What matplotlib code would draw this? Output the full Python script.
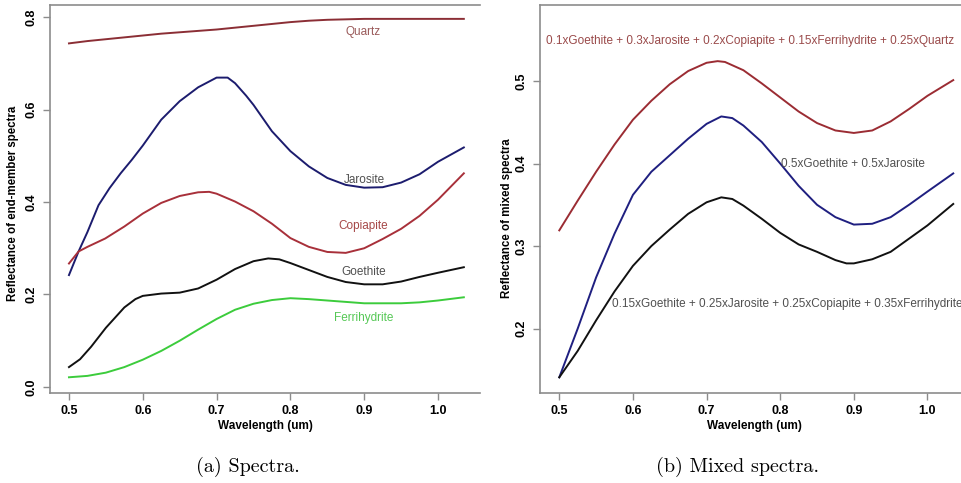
import matplotlib
matplotlib.use("Agg")
from matplotlib import pyplot as plt

plt.rcParams['font.family'] = ['Liberation Sans', 'DejaVu Sans']

# ---- end-member spectra (panel a) ----
wl_quartz = [0.50, 0.525, 0.55, 0.575, 0.60, 0.625, 0.65, 0.675, 0.70, 0.725, 0.75,
             0.775, 0.80, 0.825, 0.85, 0.875, 0.90, 0.925, 0.95, 0.975, 1.00, 1.035]
quartz = [0.743, 0.748, 0.752, 0.756, 0.760, 0.764, 0.767, 0.770, 0.773, 0.777, 0.781,
          0.785, 0.789, 0.792, 0.794, 0.795, 0.796, 0.796, 0.796, 0.796, 0.796, 0.796]

wl_jarosite = [0.50, 0.513, 0.525, 0.54, 0.555, 0.57, 0.585, 0.60, 0.625, 0.65, 0.675, 0.70, 0.715,
               0.725, 0.74, 0.75, 0.775, 0.80, 0.825, 0.85, 0.875, 0.90, 0.925, 0.95, 0.975,
               1.00, 1.035]
jarosite = [0.242, 0.293, 0.335, 0.393, 0.430, 0.462, 0.491, 0.522, 0.578, 0.618, 0.648, 0.669, 0.669,
            0.657, 0.630, 0.610, 0.553, 0.510, 0.477, 0.452, 0.437, 0.431, 0.432, 0.442, 0.460,
            0.487, 0.518]

wl_copiapite = [0.50, 0.513, 0.525, 0.549, 0.575, 0.60, 0.625, 0.65, 0.675, 0.69, 0.70, 0.725,
                0.75, 0.775, 0.80, 0.825, 0.85, 0.875, 0.90, 0.925, 0.95, 0.975, 1.00, 1.035]
copiapite = [0.267, 0.293, 0.303, 0.321, 0.347, 0.375, 0.398, 0.413, 0.421, 0.422, 0.418, 0.401,
             0.380, 0.353, 0.322, 0.303, 0.292, 0.290, 0.300, 0.320, 0.342, 0.370, 0.405, 0.462]

wl_goethite = [0.50, 0.515, 0.53, 0.55, 0.575, 0.59, 0.60, 0.625, 0.65, 0.675, 0.70, 0.725,
               0.75, 0.77, 0.785, 0.80, 0.825, 0.85, 0.875, 0.90, 0.925, 0.95, 0.975, 1.00, 1.035]
goethite = [0.043, 0.060, 0.087, 0.128, 0.172, 0.190, 0.197, 0.202, 0.204, 0.213, 0.232, 0.255,
            0.272, 0.278, 0.276, 0.268, 0.253, 0.238, 0.227, 0.222, 0.222, 0.228, 0.238, 0.247, 0.259]

wl_ferri = [0.50, 0.525, 0.55, 0.575, 0.60, 0.625, 0.65, 0.675, 0.70, 0.725, 0.75,
            0.775, 0.80, 0.825, 0.85, 0.875, 0.90, 0.925, 0.95, 0.975, 1.00, 1.035]
ferrihydrite = [0.021, 0.024, 0.031, 0.043, 0.059, 0.078, 0.100, 0.124, 0.147, 0.167, 0.180,
                0.188, 0.192, 0.190, 0.187, 0.184, 0.181, 0.181, 0.181, 0.183, 0.187, 0.194]

# ---- mixed spectra (panel b) ----
wl_mix5 = [0.50, 0.525, 0.55, 0.575, 0.60, 0.625, 0.65, 0.675, 0.70, 0.715, 0.725, 0.75,
           0.775, 0.80, 0.825, 0.85, 0.875, 0.90, 0.925, 0.95, 0.975, 1.00, 1.035]
mix5 = [0.319, 0.355, 0.390, 0.423, 0.453, 0.476, 0.496, 0.512, 0.522, 0.524, 0.523, 0.513,
        0.497, 0.480, 0.463, 0.449, 0.440, 0.437, 0.440, 0.451, 0.466, 0.482, 0.501]

wl_mix2 = [0.50, 0.525, 0.55, 0.575, 0.60, 0.625, 0.65, 0.675, 0.70, 0.72, 0.735, 0.75,
           0.775, 0.80, 0.825, 0.85, 0.875, 0.90, 0.925, 0.95, 0.975, 1.00, 1.035]
mix2 = [0.141, 0.200, 0.262, 0.315, 0.362, 0.390, 0.410, 0.430, 0.448, 0.457, 0.455, 0.446,
        0.426, 0.400, 0.373, 0.350, 0.335, 0.326, 0.327, 0.335, 0.350, 0.366, 0.388]

wl_mix4 = [0.50, 0.525, 0.55, 0.575, 0.60, 0.625, 0.65, 0.675, 0.70, 0.72, 0.735, 0.75,
           0.775, 0.80, 0.825, 0.85, 0.875, 0.89, 0.90, 0.925, 0.95, 0.975, 1.00, 1.035]
mix4 = [0.141, 0.173, 0.210, 0.245, 0.276, 0.300, 0.320, 0.339, 0.353, 0.359, 0.357, 0.349,
        0.333, 0.316, 0.302, 0.293, 0.283, 0.279, 0.279, 0.284, 0.293, 0.309, 0.325, 0.351]

xticks = [0.5, 0.6, 0.7, 0.8, 0.9, 1.0]
xticklabels = ["0.5", "0.6", "0.7", "0.8", "0.9", "1.0"]

fig = plt.figure(figsize=(9.61, 4.83), dpi=100)
W, H = 961, 483


def make_axes(l, r, t, b):
    return fig.add_axes([l / W, 1 - b / H, (r - l) / W, (b - t) / H])


def style(ax, yticks):
    for s in ax.spines.values():
        s.set_color("#8c8c8c")
        s.set_linewidth(1.2)
    ax.tick_params(direction="out", length=5, width=1, color="#8c8c8c", labelsize=9, pad=4)
    ax.set_xticks(xticks)
    ax.set_xticklabels(xticklabels, fontweight="bold")
    ax.set_yticks(yticks)
    ax.set_yticklabels([f"{v:.1f}" for v in yticks], fontweight="bold", rotation=90, va="center")
    ax.set_xlabel("Wavelength (um)", fontsize=8.5, fontweight="bold", labelpad=2)


LW = 1.4

# panel a
ax1 = make_axes(50, 480, 5, 393)
ax1.plot(wl_quartz, quartz, color="#8b2e35", lw=LW)
ax1.plot(wl_jarosite, jarosite, color="#1c1c6e", lw=LW)
ax1.plot(wl_copiapite, copiapite, color="#a8303a", lw=LW)
ax1.plot(wl_goethite, goethite, color="#111111", lw=LW)
ax1.plot(wl_ferri, ferrihydrite, color="#3ccc3c", lw=LW)
ax1.set_xlim(0.4743, 1.0569)
ax1.set_ylim(-0.013, 0.826)
style(ax1, [0.0, 0.2, 0.4, 0.6, 0.8])
ax1.spines["right"].set_visible(False)
ax1.set_ylabel("Reflectance of end-member spectra", fontsize=8.3, fontweight="bold")
ax1.yaxis.set_label_coords(-0.072, 0.49)
lab = dict(fontsize=8.5, ha="center", va="center")
ax1.text(0.899, 0.767, "Quartz", color="#9a5a5a", **lab)
ax1.text(0.900, 0.448, "Jarosite", color="#505050", **lab)
ax1.text(0.899, 0.349, "Copiapite", color="#a64848", **lab)
ax1.text(0.899, 0.248, "Goethite", color="#505050", **lab)
ax1.text(0.899, 0.150, "Ferrihydrite", color="#55c855", **lab)

# panel b
ax2 = make_axes(540, 969, 5, 393)
ax2.plot(wl_mix5, mix5, color="#9b2c33", lw=LW)
ax2.plot(wl_mix2, mix2, color="#1f1f80", lw=LW)
ax2.plot(wl_mix4, mix4, color="#111111", lw=LW)
ax2.set_xlim(0.4738, 1.0564)
ax2.set_ylim(0.122, 0.592)
style(ax2, [0.2, 0.3, 0.4, 0.5])
ax2.set_ylabel("Reflectance of mixed spectra", fontsize=8.3, fontweight="bold")
ax2.yaxis.set_label_coords(-0.062, 0.45)
ax2.text(0.759, 0.548, "0.1xGoethite + 0.3xJarosite + 0.2xCopiapite + 0.15xFerrihydrite + 0.25xQuartz",
         color="#9a4a4a", **lab)
ax2.text(0.899, 0.399, "0.5xGoethite + 0.5xJarosite", color="#505050", **lab)
ax2.text(0.571, 0.230, "0.15xGoethite + 0.25xJarosite + 0.25xCopiapite + 0.35xFerrihydrite",
         color="#505050", fontsize=8.5, ha="left", va="center")

# captions
fig.text(248 / W, 1 - 467 / H, "(a) Spectra.", family="cmr10", fontsize=14.5, ha="center", va="center")
fig.text(737 / W, 1 - 467 / H, "(b) Mixed spectra.", family="cmr10", fontsize=14.5, ha="center", va="center")

fig.savefig("out.png", dpi=100)
